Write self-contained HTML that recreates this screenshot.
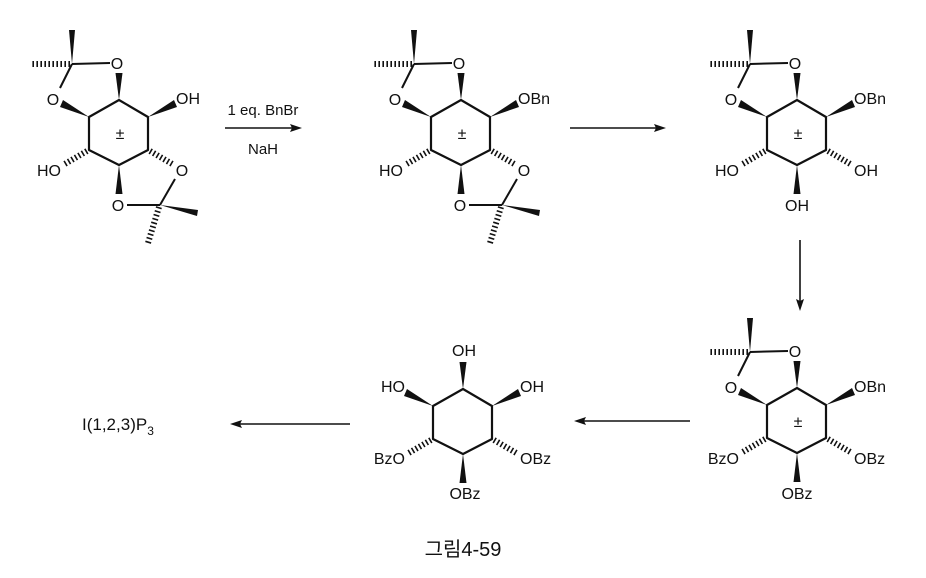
<!DOCTYPE html>
<html><head><meta charset="utf-8"><style>
html,body{margin:0;padding:0;background:#fff;}
svg{display:block;}
text{font-family:"Liberation Sans","Noto Sans CJK KR",sans-serif;font-size:16px;fill:#111;}
</style></head><body>
<svg width="926" height="578" viewBox="0 0 926 578" xmlns="http://www.w3.org/2000/svg">
<defs>
<path id="ring" d="M0,-33 L29,-16 L29,17 L0,32 L-30,17 L-30,-16 Z" fill="none" stroke="#111" stroke-width="2.2" stroke-linejoin="round"/>
<polygon id="wT" points="0,-33 -3.5,-60 3.5,-60" fill="#111"/>
<polygon id="wUL" points="-30,-16 -56,-33 -59,-26" fill="#111"/>
<polygon id="wUR" points="29,-16 55,-33 58,-26" fill="#111"/>
<polygon id="wB" points="0,32 -3.5,61 3.5,61" fill="#111"/>
<line id="hLR" x1="31" y1="18" x2="55" y2="32" stroke="#111" stroke-width="6" stroke-dasharray="1.6,2.4"/>
<line id="hLL" x1="-32" y1="18" x2="-56" y2="32" stroke="#111" stroke-width="6" stroke-dasharray="1.6,2.4"/>
<g id="acTop">
<line x1="-9" y1="-70" x2="-47" y2="-69" stroke="#111" stroke-width="2"/>
<line x1="-47" y1="-69" x2="-59" y2="-45" stroke="#111" stroke-width="2"/>
<polygon points="-47,-69 -50,-103 -44,-103" fill="#111"/>
<line x1="-49" y1="-69" x2="-87" y2="-69" stroke="#111" stroke-width="6" stroke-dasharray="1.6,2.4"/>
</g>
<g id="acBot">
<line x1="8" y1="72" x2="41" y2="72" stroke="#111" stroke-width="2"/>
<line x1="41" y1="72" x2="56" y2="46" stroke="#111" stroke-width="2"/>
<polygon points="41,72 79,77 78,83" fill="#111"/>
<line x1="40" y1="74" x2="29" y2="110" stroke="#111" stroke-width="6" stroke-dasharray="1.6,2.4"/>
</g>
</defs>

<!-- Molecule 1 -->
<g transform="translate(119,133)">
<use href="#ring"/><use href="#wT"/><use href="#wUL"/><use href="#wUR"/><use href="#wB"/><use href="#hLR"/><use href="#hLL"/>
<use href="#acTop"/><use href="#acBot"/>
<text x="1" y="6" text-anchor="middle">±</text>
<text x="-2" y="-64" text-anchor="middle">O</text>
<text x="-66" y="-28" text-anchor="middle">O</text>
<text x="57" y="-29">OH</text>
<text x="-58" y="43" text-anchor="end">HO</text>
<text x="63" y="43" text-anchor="middle">O</text>
<text x="-1" y="78" text-anchor="middle">O</text>
</g>

<!-- Molecule 2 -->
<g transform="translate(461,133)">
<use href="#ring"/><use href="#wT"/><use href="#wUL"/><use href="#wUR"/><use href="#wB"/><use href="#hLR"/><use href="#hLL"/>
<use href="#acTop"/><use href="#acBot"/>
<text x="1" y="6" text-anchor="middle">±</text>
<text x="-2" y="-64" text-anchor="middle">O</text>
<text x="-66" y="-28" text-anchor="middle">O</text>
<text x="57" y="-29">OBn</text>
<text x="-58" y="43" text-anchor="end">HO</text>
<text x="63" y="43" text-anchor="middle">O</text>
<text x="-1" y="78" text-anchor="middle">O</text>
</g>

<!-- Molecule 3 -->
<g transform="translate(797,133)">
<use href="#ring"/><use href="#wT"/><use href="#wUL"/><use href="#wUR"/><use href="#wB"/><use href="#hLR"/><use href="#hLL"/>
<use href="#acTop"/>
<text x="1" y="6" text-anchor="middle">±</text>
<text x="-2" y="-64" text-anchor="middle">O</text>
<text x="-66" y="-28" text-anchor="middle">O</text>
<text x="57" y="-29">OBn</text>
<text x="-58" y="43" text-anchor="end">HO</text>
<text x="57" y="43">OH</text>
<text x="0" y="78" text-anchor="middle">OH</text>
</g>

<!-- Molecule 4 -->
<g transform="translate(797,421)">
<use href="#ring"/><use href="#wT"/><use href="#wUL"/><use href="#wUR"/><use href="#wB"/><use href="#hLR"/><use href="#hLL"/>
<use href="#acTop"/>
<text x="1" y="6" text-anchor="middle">±</text>
<text x="-2" y="-64" text-anchor="middle">O</text>
<text x="-66" y="-28" text-anchor="middle">O</text>
<text x="57" y="-29">OBn</text>
<text x="-58" y="43" text-anchor="end">BzO</text>
<text x="57" y="43">OBz</text>
<text x="0" y="78" text-anchor="middle">OBz</text>
</g>

<!-- Molecule 5 -->
<g transform="translate(463,422)">
<use href="#ring"/><use href="#wT"/><use href="#wUL"/><use href="#wUR"/><use href="#wB"/><use href="#hLR"/><use href="#hLL"/>
<text x="1" y="-66" text-anchor="middle">OH</text>
<text x="-58" y="-30" text-anchor="end">HO</text>
<text x="57" y="-30">OH</text>
<text x="-58" y="42" text-anchor="end">BzO</text>
<text x="57" y="42">OBz</text>
<text x="2" y="77" text-anchor="middle">OBz</text>
</g>

<!-- Arrows -->
<g stroke="#111" stroke-width="1.6" fill="#111">
<line x1="225" y1="128" x2="296" y2="128"/>
<polygon points="302,128 290,124 292,128 290,132" stroke="none"/>
<line x1="570" y1="128" x2="660" y2="128"/>
<polygon points="666,128 654,124 656,128 654,132" stroke="none"/>
<line x1="800" y1="240" x2="800" y2="304"/>
<polygon points="800,311 796,299 800,301 804,299" stroke="none"/>
<line x1="690" y1="421" x2="580" y2="421"/>
<polygon points="574,421 586,417 584,421 586,425" stroke="none"/>
<line x1="350" y1="424" x2="236" y2="424"/>
<polygon points="230,424 242,420 240,424 242,428" stroke="none"/>
</g>
<text x="263" y="115" text-anchor="middle" style="font-size:15px">1 eq. BnBr</text>
<text x="263" y="154" text-anchor="middle" style="font-size:15px">NaH</text>
<text x="82" y="430" style="font-size:17px">I(1,2,3)P<tspan dy="5" style="font-size:12px">3</tspan></text>
<text x="463" y="556" text-anchor="middle" style="font-size:20px">그림4-59</text>
</svg>
</body></html>
